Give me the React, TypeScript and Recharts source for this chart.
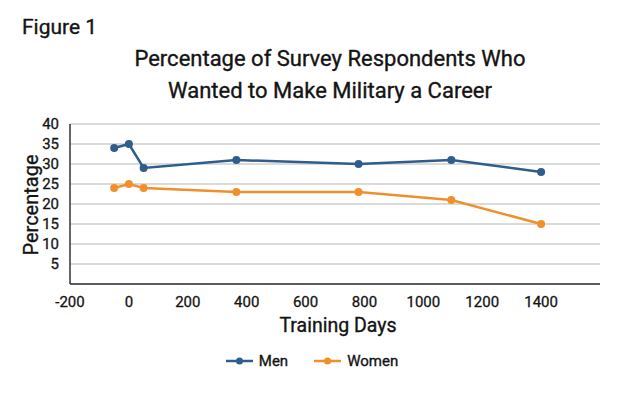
import React from "react";
import { LineChart, Line, XAxis, YAxis, CartesianGrid } from "recharts";

const trainingDays = [-50, 0, 50, 365, 780, 1095, 1400];
const menValues = [34, 35, 29, 31, 30, 31, 28];
const womenValues = [24, 25, 24, 23, 23, 21, 15];
const xTicks = [-200, 0, 200, 400, 600, 800, 1000, 1200, 1400];
const yTicks = [5, 10, 15, 20, 25, 30, 35, 40];
const seriesNames = ["Men", "Women"];

const data = trainingDays.map((d, i) => ({ day: d, men: menValues[i], women: womenValues[i] }));

const MEN = "#2f5d8c";
const WOMEN = "#f0902c";
const colors = [MEN, WOMEN];
const FONT = "Roboto, 'Noto Sans', sans-serif";
const TXT = "#141414";
const stroke: any = { WebkitTextStroke: "0.35px #141414" };
const tickStyle = { fill: TXT, fontSize: 15, fontFamily: FONT, stroke: TXT, strokeWidth: 0.3 };

export default function App() {
  return (
    <div style={{ position: "relative", width: 640, height: 396, background: "#fff" }}>
      <style>{"body{margin:0}"}</style>
      <LineChart width={640} height={396} data={data} margin={{ top: 124, right: 40, bottom: 82, left: 10 }}>
        <CartesianGrid horizontal={true} vertical={false} stroke="#cfcfcf" strokeWidth={1.5} />
        <XAxis
          dataKey="day"
          type="number"
          domain={[-200, 1600]}
          ticks={xTicks}
          interval={0}
          height={30}
          tickLine={false}
          axisLine={{ stroke: "#333", strokeWidth: 1.5 }}
          tick={tickStyle}
          tickMargin={6}
        />
        <YAxis
          type="number"
          domain={[0, 40]}
          ticks={yTicks}
          interval={0}
          width={60}
          tickLine={false}
          axisLine={{ stroke: "#333", strokeWidth: 1.5 }}
          tick={tickStyle}
          tickMargin={5}
        />
        <Line dataKey="men" name="Men" stroke={MEN} strokeWidth={2.5} dot={{ r: 4, fill: MEN, stroke: MEN, strokeWidth: 0 }} isAnimationActive={false} />
        <Line dataKey="women" name="Women" stroke={WOMEN} strokeWidth={2.5} dot={{ r: 4, fill: WOMEN, stroke: WOMEN, strokeWidth: 0 }} isAnimationActive={false} />
      </LineChart>
      <div style={{ position: "absolute", left: 22, top: 15, fontFamily: FONT, fontSize: 21, color: TXT, ...stroke }}>Figure 1</div>
      <div style={{ position: "absolute", left: 0, width: 660, top: 43, textAlign: "center", fontFamily: FONT, fontSize: 22, lineHeight: "32px", color: TXT, ...stroke }}>
        Percentage of Survey Respondents Who
        <br />
        Wanted to Make Military a Career
      </div>
      <div style={{ position: "absolute", left: 0, width: 676, top: 314, textAlign: "center", fontFamily: FONT, fontSize: 19.5, color: TXT, ...stroke }}>Training Days</div>
      <div style={{ position: "absolute", left: 31, top: 205, transform: "translate(-50%, -50%) rotate(-90deg)", fontFamily: FONT, fontSize: 20, color: TXT, whiteSpace: "nowrap", ...stroke }}>Percentage</div>
      <div style={{ position: "absolute", left: 0, width: 624, top: 352, display: "flex", justifyContent: "center", gap: 26, fontFamily: FONT, fontSize: 15, color: TXT, ...stroke }}>
        {seriesNames.map((n, i) => (
          <div key={n} style={{ display: "flex", alignItems: "center", gap: 6 }}>
            <svg width={27} height={10}>
              <line x1={0} y1={5} x2={27} y2={5} stroke={colors[i]} strokeWidth={2.5} />
              <circle cx={13.5} cy={5} r={3.5} fill={colors[i]} />
            </svg>
            <span>{n}</span>
          </div>
        ))}
      </div>
    </div>
  );
}
